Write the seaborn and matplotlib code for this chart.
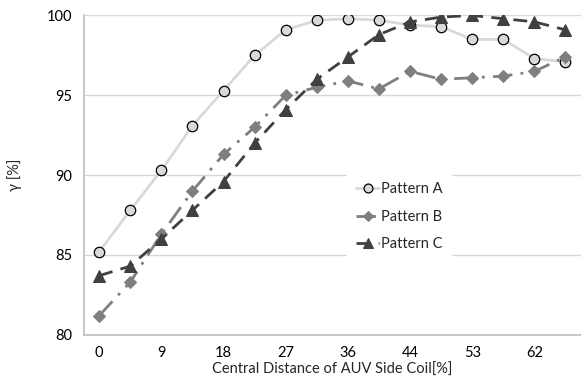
import numpy as np
import pandas as pd
import matplotlib
matplotlib.use("Agg")
import matplotlib.pyplot as plt
import seaborn as sns

# values
tick_labels = ["0", "9", "18", "27", "36", "44", "53", "62"]
pattern_a = [85.2, 87.8, 90.3, 93.1, 95.3, 97.5, 99.1, 99.7, 99.8, 99.7, 99.4, 99.3, 98.5, 98.5, 97.3, 97.1]
pattern_b = [81.2, 83.3, 86.3, 89.0, 91.3, 93.0, 95.0, 95.5, 95.9, 95.4, 96.5, 96.0, 96.1, 96.2, 96.5, 97.4]
pattern_c = [83.7, 84.3, 86.0, 87.8, 89.6, 92.0, 94.1, 96.0, 97.4, 98.8, 99.6, 99.9, 100.0, 99.8, 99.6, 99.1]

idx = np.arange(len(pattern_a))
df = pd.DataFrame({"idx": idx, "Pattern A": pattern_a, "Pattern B": pattern_b, "Pattern C": pattern_c})

sns.set_style("white")
plt.rcParams["font.family"] = ["Lato", "DejaVu Sans"]

fig, ax = plt.subplots(figsize=(5.81, 3.87), dpi=100)
fig.subplots_adjust(left=0.144, right=1.0, top=0.96, bottom=0.135)

sns.lineplot(data=df, x="idx", y="Pattern A", ax=ax, color="#D9D9D9", linewidth=2,
             marker="o", markersize=7.5, markerfacecolor="#D9D9D9", markeredgecolor="black",
             markeredgewidth=0.9, label="Pattern A")
sns.lineplot(data=df, x="idx", y="Pattern B", ax=ax, color="#7F7F7F", linewidth=2,
             linestyle=(0, (7, 3, 1, 3)), marker="D", markersize=6,
             markerfacecolor="#7F7F7F", markeredgecolor="#7F7F7F", label="Pattern B")
sns.lineplot(data=df, x="idx", y="Pattern C", ax=ax, color="#404040", linewidth=2,
             linestyle=(0, (5, 3)), marker="^", markersize=8.5,
             markerfacecolor="#404040", markeredgecolor="#404040", label="Pattern C")

ax.set_xlim(-0.5, 15.5)
ax.set_ylim(80, 100)
ax.set_yticks([80, 85, 90, 95, 100])
ax.set_xticks(idx[::2])
ax.set_xticklabels(tick_labels)
ax.yaxis.grid(True, color="#D9D9D9", linewidth=1)
ax.set_axisbelow(True)
for s in ["top", "right"]:
    ax.spines[s].set_visible(False)
for s in ["left", "bottom"]:
    ax.spines[s].set_color("#BFBFBF")
    ax.spines[s].set_linewidth(1.2)
ax.tick_params(axis="both", length=0, labelsize=10.5, colors="black", pad=8)

ax.set_xlabel("Central Distance of AUV Side Coil[%]", fontsize=10.5, labelpad=2)
ax.set_ylabel("γ [%]", fontsize=10.5, labelpad=18)

leg = ax.legend(loc="center left", bbox_to_anchor=(0.515, 0.37), frameon=True,
                fontsize=10.5, handlelength=1.6, handletextpad=0.1, borderpad=0.6,
                labelspacing=0.95, markerscale=0.85)
leg.get_frame().set_edgecolor("white")
leg.get_frame().set_facecolor("white")
leg.get_frame().set_alpha(1)

fig.savefig("out.png", dpi=100)
